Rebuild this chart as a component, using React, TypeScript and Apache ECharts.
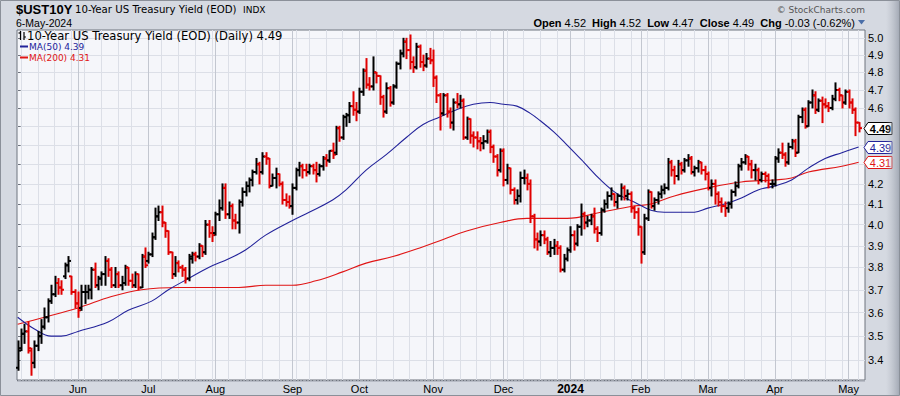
import React, { useEffect, useRef } from "react";
import * as echarts from "echarts";

// ---------- calendar ----------
const firstDay = "2023-05-05";
const lastDay = "2024-05-06";
const marketHolidays = [
  "2023-05-29", "2023-06-19", "2023-07-04", "2023-09-04", "2023-11-23",
  "2023-12-25", "2024-01-01", "2024-01-15", "2024-02-19", "2024-03-29",
];
const monthNames = ["Jan", "Feb", "Mar", "Apr", "May", "Jun", "Jul", "Aug", "Sep", "Oct", "Nov", "Dec"];

// ---------- OHLC rows [open, high, low, close] ----------
const may2023 = [
  [3.37, 3.48, 3.36, 3.44], [3.45, 3.53, 3.44, 3.51], [3.51, 3.55, 3.47, 3.52], [3.52, 3.56, 3.43, 3.45],
  [3.44, 3.45, 3.34, 3.39], [3.39, 3.48, 3.37, 3.46], [3.46, 3.52, 3.44, 3.50], [3.50, 3.57, 3.47, 3.54],
  [3.54, 3.62, 3.53, 3.58], [3.58, 3.66, 3.56, 3.65], [3.65, 3.72, 3.64, 3.68], [3.68, 3.76, 3.67, 3.73],
  [3.73, 3.75, 3.68, 3.71], [3.71, 3.74, 3.68, 3.70], [3.76, 3.82, 3.75, 3.81], [3.81, 3.85, 3.78, 3.83],
  [3.76, 3.76, 3.68, 3.69], [3.69, 3.70, 3.62, 3.64],
];
const jun2023 = [
  [3.64, 3.69, 3.58, 3.61], [3.62, 3.72, 3.61, 3.69], [3.69, 3.72, 3.64, 3.69], [3.69, 3.72, 3.66, 3.70],
  [3.70, 3.80, 3.66, 3.79], [3.79, 3.82, 3.71, 3.72], [3.72, 3.76, 3.70, 3.75], [3.75, 3.78, 3.72, 3.77],
  [3.77, 3.85, 3.72, 3.83], [3.83, 3.84, 3.76, 3.79], [3.79, 3.80, 3.71, 3.72], [3.72, 3.80, 3.71, 3.77],
  [3.77, 3.78, 3.71, 3.72], [3.72, 3.76, 3.70, 3.73], [3.73, 3.81, 3.72, 3.80], [3.80, 3.80, 3.72, 3.74],
  [3.74, 3.77, 3.71, 3.72], [3.72, 3.78, 3.71, 3.77], [3.77, 3.77, 3.70, 3.71], [3.71, 3.86, 3.71, 3.85],
  [3.85, 3.89, 3.80, 3.81],
];
const jul2023 = [
  [3.83, 3.87, 3.82, 3.86], [3.86, 3.96, 3.85, 3.94], [3.94, 4.08, 3.93, 4.04], [4.04, 4.09, 4.02, 4.06],
  [4.06, 4.09, 3.99, 4.01], [4.01, 4.01, 3.94, 3.97], [3.97, 3.97, 3.86, 3.87], [3.87, 3.87, 3.75, 3.77],
  [3.77, 3.85, 3.76, 3.82], [3.82, 3.83, 3.78, 3.80], [3.80, 3.81, 3.76, 3.79], [3.79, 3.80, 3.73, 3.75],
  [3.75, 3.86, 3.74, 3.85], [3.84, 3.87, 3.82, 3.86], [3.86, 3.87, 3.83, 3.85], [3.85, 3.91, 3.84, 3.90],
  [3.90, 3.90, 3.85, 3.87], [3.87, 4.02, 3.86, 4.00], [4.00, 4.02, 3.94, 3.96], [3.96, 3.99, 3.92, 3.95],
];
const aug2023 = [
  [3.96, 4.06, 3.95, 4.05], [4.05, 4.12, 4.02, 4.08], [4.08, 4.20, 4.07, 4.18], [4.18, 4.20, 4.03, 4.05],
  [4.05, 4.11, 4.03, 4.09], [4.09, 4.10, 3.98, 4.02], [4.02, 4.05, 3.98, 4.01], [4.01, 4.12, 3.96, 4.11],
  [4.11, 4.18, 4.09, 4.16], [4.16, 4.21, 4.14, 4.19], [4.19, 4.23, 4.16, 4.22], [4.22, 4.27, 4.19, 4.26],
  [4.26, 4.33, 4.25, 4.30], [4.30, 4.31, 4.20, 4.26], [4.26, 4.36, 4.25, 4.34], [4.34, 4.36, 4.30, 4.33],
  [4.33, 4.33, 4.18, 4.19], [4.19, 4.25, 4.19, 4.23], [4.23, 4.28, 4.18, 4.25], [4.25, 4.25, 4.19, 4.20],
  [4.20, 4.21, 4.10, 4.12], [4.12, 4.15, 4.09, 4.11], [4.11, 4.14, 4.08, 4.09],
];
const sep2023 = [
  [4.09, 4.20, 4.05, 4.18], [4.18, 4.28, 4.17, 4.27], [4.27, 4.31, 4.24, 4.29], [4.29, 4.30, 4.23, 4.27],
  [4.27, 4.30, 4.24, 4.26], [4.26, 4.30, 4.25, 4.29], [4.29, 4.30, 4.25, 4.27], [4.27, 4.31, 4.21, 4.25],
  [4.25, 4.30, 4.24, 4.29], [4.29, 4.34, 4.27, 4.33], [4.33, 4.35, 4.29, 4.32], [4.32, 4.37, 4.31, 4.37],
  [4.37, 4.41, 4.33, 4.35], [4.36, 4.50, 4.35, 4.49], [4.49, 4.50, 4.42, 4.44], [4.44, 4.56, 4.43, 4.55],
  [4.55, 4.57, 4.50, 4.56], [4.56, 4.63, 4.52, 4.61], [4.61, 4.69, 4.56, 4.59], [4.59, 4.63, 4.53, 4.58],
];
const oct2023 = [
  [4.58, 4.71, 4.57, 4.69], [4.69, 4.82, 4.67, 4.81], [4.81, 4.88, 4.71, 4.73], [4.73, 4.77, 4.70, 4.72],
  [4.72, 4.89, 4.70, 4.80], [4.80, 4.80, 4.74, 4.78], [4.78, 4.78, 4.62, 4.66], [4.66, 4.67, 4.55, 4.58],
  [4.58, 4.74, 4.57, 4.71], [4.71, 4.72, 4.61, 4.63], [4.63, 4.73, 4.62, 4.72], [4.72, 4.86, 4.71, 4.85],
  [4.85, 4.93, 4.82, 4.91], [4.91, 5.00, 4.89, 4.98], [4.98, 5.00, 4.88, 4.93], [4.93, 5.02, 4.82, 4.86],
  [4.86, 4.89, 4.80, 4.83], [4.83, 4.97, 4.82, 4.95], [4.95, 4.96, 4.83, 4.86], [4.86, 4.90, 4.81, 4.84],
  [4.84, 4.91, 4.83, 4.88], [4.88, 4.94, 4.85, 4.87],
];
const nov2023 = [
  [4.87, 4.93, 4.72, 4.77], [4.77, 4.78, 4.63, 4.67], [4.67, 4.68, 4.48, 4.57], [4.57, 4.68, 4.56, 4.67],
  [4.67, 4.68, 4.55, 4.58], [4.58, 4.60, 4.49, 4.52], [4.52, 4.65, 4.48, 4.63], [4.63, 4.68, 4.60, 4.62],
  [4.62, 4.67, 4.60, 4.64], [4.64, 4.65, 4.43, 4.44], [4.44, 4.55, 4.43, 4.54], [4.54, 4.54, 4.41, 4.45],
  [4.45, 4.47, 4.39, 4.44], [4.44, 4.47, 4.38, 4.42], [4.42, 4.44, 4.37, 4.41], [4.41, 4.45, 4.38, 4.42],
  [4.42, 4.48, 4.41, 4.47], [4.47, 4.48, 4.36, 4.39], [4.39, 4.40, 4.31, 4.34], [4.34, 4.35, 4.24, 4.27],
  [4.27, 4.38, 4.26, 4.37],
];
const dec2023 = [
  [4.37, 4.38, 4.19, 4.22], [4.22, 4.30, 4.20, 4.28], [4.28, 4.28, 4.15, 4.17], [4.17, 4.18, 4.10, 4.12],
  [4.12, 4.17, 4.10, 4.14], [4.14, 4.26, 4.11, 4.23], [4.23, 4.27, 4.20, 4.23], [4.23, 4.25, 4.17, 4.20],
  [4.20, 4.22, 4.01, 4.04], [4.04, 4.05, 3.89, 3.93], [3.93, 3.96, 3.88, 3.92], [3.92, 3.97, 3.90, 3.95],
  [3.95, 3.97, 3.91, 3.93], [3.93, 3.94, 3.86, 3.87], [3.87, 3.92, 3.85, 3.89], [3.89, 3.93, 3.86, 3.90],
  [3.90, 3.92, 3.86, 3.89], [3.89, 3.90, 3.78, 3.79], [3.79, 3.86, 3.78, 3.84], [3.84, 3.89, 3.83, 3.88],
];
const jan2024 = [
  [3.88, 3.99, 3.87, 3.95], [3.95, 3.97, 3.88, 3.91], [3.91, 4.00, 3.90, 3.99], [3.99, 4.10, 3.95, 4.05],
  [4.05, 4.06, 3.98, 4.01], [4.01, 4.04, 3.99, 4.02], [4.02, 4.05, 4.00, 4.04], [4.04, 4.08, 3.96, 3.98],
  [3.98, 3.99, 3.92, 3.96], [3.96, 4.08, 3.95, 4.07], [4.07, 4.12, 4.06, 4.10], [4.10, 4.16, 4.08, 4.14],
  [4.14, 4.18, 4.12, 4.15], [4.15, 4.15, 4.09, 4.11], [4.11, 4.15, 4.08, 4.14], [4.14, 4.20, 4.12, 4.18],
  [4.18, 4.19, 4.12, 4.14], [4.14, 4.17, 4.12, 4.15], [4.15, 4.16, 4.06, 4.08], [4.08, 4.09, 4.03, 4.06],
  [4.06, 4.08, 3.95, 3.99],
];
const feb2024 = [
  [3.99, 3.99, 3.82, 3.87], [3.87, 4.05, 3.86, 4.03], [4.03, 4.17, 4.02, 4.16], [4.16, 4.16, 4.08, 4.09],
  [4.09, 4.13, 4.07, 4.12], [4.12, 4.16, 4.10, 4.15], [4.15, 4.19, 4.13, 4.17], [4.17, 4.20, 4.15, 4.18],
  [4.18, 4.33, 4.17, 4.31], [4.31, 4.32, 4.24, 4.27], [4.27, 4.29, 4.20, 4.24], [4.24, 4.32, 4.22, 4.30],
  [4.30, 4.31, 4.25, 4.27], [4.27, 4.33, 4.26, 4.32], [4.32, 4.35, 4.29, 4.33], [4.33, 4.34, 4.25, 4.26],
  [4.26, 4.29, 4.24, 4.28], [4.28, 4.32, 4.26, 4.31], [4.31, 4.31, 4.25, 4.27], [4.27, 4.29, 4.22, 4.25],
];
const mar2024 = [
  [4.25, 4.26, 4.17, 4.18], [4.18, 4.22, 4.14, 4.20], [4.20, 4.22, 4.10, 4.15], [4.15, 4.16, 4.09, 4.11],
  [4.11, 4.13, 4.06, 4.09], [4.09, 4.11, 4.04, 4.08], [4.08, 4.11, 4.06, 4.10], [4.10, 4.17, 4.08, 4.16],
  [4.16, 4.21, 4.14, 4.19], [4.19, 4.30, 4.18, 4.29], [4.29, 4.33, 4.27, 4.31], [4.31, 4.35, 4.30, 4.34],
  [4.34, 4.34, 4.27, 4.30], [4.30, 4.32, 4.23, 4.27], [4.27, 4.30, 4.22, 4.27], [4.27, 4.28, 4.20, 4.22],
  [4.22, 4.26, 4.21, 4.25], [4.25, 4.26, 4.21, 4.24], [4.24, 4.25, 4.18, 4.20], [4.20, 4.22, 4.18, 4.20],
];
const apr2024 = [
  [4.20, 4.34, 4.19, 4.33], [4.33, 4.38, 4.31, 4.36], [4.36, 4.41, 4.33, 4.35], [4.35, 4.36, 4.29, 4.31],
  [4.31, 4.41, 4.30, 4.39], [4.39, 4.43, 4.38, 4.42], [4.42, 4.43, 4.34, 4.36], [4.36, 4.56, 4.36, 4.55],
  [4.55, 4.60, 4.52, 4.59], [4.59, 4.60, 4.49, 4.50], [4.50, 4.64, 4.50, 4.63], [4.63, 4.70, 4.60, 4.67],
  [4.67, 4.69, 4.57, 4.59], [4.59, 4.65, 4.58, 4.64], [4.64, 4.66, 4.52, 4.62], [4.62, 4.65, 4.60, 4.61],
  [4.61, 4.63, 4.58, 4.60], [4.60, 4.67, 4.59, 4.65], [4.65, 4.74, 4.64, 4.70], [4.70, 4.71, 4.64, 4.67],
  [4.67, 4.67, 4.60, 4.63], [4.63, 4.70, 4.62, 4.69],
];
const may2024 = [
  [4.69, 4.70, 4.60, 4.63], [4.63, 4.65, 4.57, 4.59], [4.59, 4.60, 4.45, 4.52], [4.52, 4.52, 4.47, 4.49],
];
const closeBeforeFirstDay = 3.38;

// moving averages: [bar index, value]
const ma50Points = [
  [0, 3.58], [5, 3.53], [10, 3.50], [13, 3.50], [18, 3.52], [27, 3.56], [33, 3.61], [40, 3.65],
  [45, 3.70], [51, 3.75], [57, 3.80], [63, 3.84], [68, 3.88], [74, 3.95], [82, 4.02], [87, 4.06],
  [94, 4.12], [98, 4.17], [104, 4.27], [110, 4.35], [116, 4.44], [121, 4.51], [126, 4.55], [131, 4.59],
  [136, 4.62], [141, 4.63], [145, 4.62], [149, 4.61], [153, 4.57], [156, 4.53], [160, 4.47], [164, 4.40],
  [169, 4.31], [174, 4.22], [179, 4.15], [184, 4.11], [189, 4.07], [193, 4.06], [198, 4.06], [202, 4.06],
  [206, 4.08], [211, 4.10], [216, 4.13], [221, 4.17], [226, 4.19], [231, 4.22], [236, 4.28], [241, 4.33],
  [246, 4.36], [251, 4.39],
];
const ma200Points = [
  [0, 3.55], [8, 3.58], [18, 3.62], [28, 3.67], [37, 3.70], [48, 3.71], [58, 3.71], [66, 3.71],
  [74, 3.72], [82, 3.72], [89, 3.74], [97, 3.78], [104, 3.82], [112, 3.85], [120, 3.89], [127, 3.93],
  [134, 3.97], [144, 4.01], [152, 4.03], [164, 4.03], [174, 4.06], [184, 4.09], [189, 4.10], [196, 4.14],
  [206, 4.18], [216, 4.21], [226, 4.22], [231, 4.23], [236, 4.26], [246, 4.29], [251, 4.31],
];

// y-axis tick values (log scale)
const yTicks = [3.4, 3.5, 3.6, 3.7, 3.8, 3.9, 4.0, 4.1, 4.2, 4.3, 4.4, 4.5, 4.6, 4.7, 4.8, 4.9, 5.0];
const yHiddenLabels = [4.3, 4.4, 4.5];
const yRange = [3.321, 5.05];

const headerQuote = { open: "4.52", high: "4.52", low: "4.47", close: "4.49", chg: "-0.03 (-0.62%)" };

function tradingDays(): string[] {
  const out: string[] = [];
  const d = new Date(firstDay + "T00:00:00Z");
  const end = new Date(lastDay + "T00:00:00Z").getTime();
  while (d.getTime() <= end) {
    const wd = d.getUTCDay();
    const s = d.toISOString().slice(0, 10);
    if (wd !== 0 && wd !== 6 && !marketHolidays.includes(s)) out.push(s);
    d.setUTCDate(d.getUTCDate() + 1);
  }
  return out;
}

export default function App() {
  const ref = useRef<HTMLDivElement>(null);
  useEffect(() => {
    if (!ref.current) return;
    const chart = echarts.init(ref.current, undefined, { renderer: "svg" });
    const days = tradingDays();
    const rows = [...may2023, ...jun2023, ...jul2023, ...aug2023, ...sep2023, ...oct2023, ...nov2023,
      ...dec2023, ...jan2024, ...feb2024, ...mar2024, ...apr2024, ...may2024];
    const n = rows.length;
    const ohlc = rows.map((r, i) => {
      const prev = i === 0 ? closeBeforeFirstDay : rows[i - 1][3];
      return [i, Math.log(r[0]), Math.log(r[1]), Math.log(r[2]), Math.log(r[3]), r[3] >= prev ? 1 : 0];
    });
    const monthIdx: number[] = [];
    const weekIdx: number[] = [];
    const monthLabel: Record<number, string> = {};
    for (let i = 1; i < days.length; i++) {
      const a = new Date(days[i - 1] + "T00:00:00Z");
      const b = new Date(days[i] + "T00:00:00Z");
      if (a.getUTCMonth() !== b.getUTCMonth()) {
        monthIdx.push(i);
        monthLabel[i] = b.getUTCMonth() === 0 ? "{b|" + b.getUTCFullYear() + "}" : monthNames[b.getUTCMonth()];
      }
      if (b.getUTCDay() <= a.getUTCDay()) weekIdx.push(i);
    }
    const allIdx = days.map((_, i) => i);
    const xMin = -0.2;
    const xMax = n + 0.9;
    const yMinL = Math.log(yRange[0]);
    const yMaxL = Math.log(yRange[1]);
    const tickL = yTicks.map((v) => Math.log(v));
    const labelL = yTicks.filter((v) => !yHiddenLabels.includes(v)).map((v) => Math.log(v));
    const ma50 = ma50Points.map((p) => [p[0], Math.log(p[1])]);
    const ma200 = ma200Points.map((p) => [p[0], Math.log(p[1])]);
    const lastClose = rows[n - 1][3];
    const lastMa50 = ma50Points[ma50Points.length - 1][1];
    const lastMa200 = ma200Points[ma200Points.length - 1][1];

    const gridColor = "#dcdfe7";
    const xCommon = { type: "value", min: xMin, max: xMax, gridIndex: 0, axisLine: { show: false } };

    chart.setOption({
      animation: false,
      backgroundColor: "#d5d9e1",
      grid: { left: 17, top: 30, width: 848, height: 350, show: true, backgroundColor: "#f5f6fa", borderColor: "#6f747e", borderWidth: 1, z: 0 },
      xAxis: [
        {
          ...xCommon,
          position: "bottom",
          axisTick: { show: false, customValues: monthIdx },
          axisLabel: {
            customValues: monthIdx,
            formatter: (v: number) => monthLabel[Math.round(v)] || "",
            color: "#000",
            fontFamily: "Liberation Sans",
            fontSize: 11,
            margin: 3,
            rich: { b: { fontWeight: "bold", fontSize: 12, fontFamily: "Liberation Sans", color: "#000" } },
          },
          splitLine: { show: true, lineStyle: { color: "#c3c7d0", width: 1 } },
          z: 2,
        },
        {
          ...xCommon,
          position: "bottom",
          axisTick: { show: false, customValues: weekIdx },
          axisLabel: { show: false },
          splitLine: { show: true, lineStyle: { color: gridColor, width: 1 } },
          z: 1,
        },
        {
          ...xCommon,
          position: "bottom",
          axisTick: { show: true, customValues: allIdx, length: 2, lineStyle: { color: "#6f747e", width: 1 } },
          axisLabel: { show: false },
          splitLine: { show: false },
        },
      ],
      yAxis: {
        type: "value",
        position: "right",
        min: yMinL,
        max: yMaxL,
        axisLine: { show: false },
        axisTick: { show: true, customValues: tickL, length: 3, lineStyle: { color: "#6f747e" } },
        axisLabel: {
          customValues: labelL,
          formatter: (v: number) => Math.exp(v).toFixed(1),
          color: "#000",
          fontFamily: "Liberation Sans",
          fontSize: 11,
          margin: 3,
        },
        splitLine: { show: true, lineStyle: { color: gridColor, width: 1 } },
      },
      series: [
        {
          type: "line",
          name: "MA(200)",
          data: ma200,
          xAxisIndex: 0,
          showSymbol: false,
          smooth: 0.4,
          lineStyle: { color: "#e01515", width: 1.1 },
          z: 3,
        },
        {
          type: "line",
          name: "MA(50)",
          data: ma50,
          xAxisIndex: 0,
          showSymbol: false,
          smooth: 0.4,
          lineStyle: { color: "#22229a", width: 1.1 },
          z: 3,
        },
        {
          type: "custom",
          name: "UST10Y",
          xAxisIndex: 0,
          data: ohlc,
          encode: { x: 0, y: [1, 2, 3, 4] },
          z: 4,
          renderItem: (params: any, api: any) => {
            const i = api.value(0);
            const o = api.coord([i, api.value(1)]);
            const h = api.coord([i, api.value(2)]);
            const l = api.coord([i, api.value(3)]);
            const c = api.coord([i, api.value(4)]);
            const x = Math.round(o[0]) + 0.5;
            const color = api.value(5) ? "#000000" : "#e00000";
            const st = { stroke: color, lineWidth: 2 };
            return {
              type: "group",
              children: [
                { type: "line", shape: { x1: x, y1: h[1] - 0.5, x2: x, y2: l[1] + 0.5 }, style: st },
                { type: "line", shape: { x1: x - 2.5, y1: o[1], x2: x, y2: o[1] }, style: st },
                { type: "line", shape: { x1: x, y1: c[1], x2: x + 2.5, y2: c[1] }, style: st },
              ],
            };
          },
        },
      ],
    });

    const tag = (val: number, color: string, bold: boolean) => {
      const p = chart.convertToPixel({ xAxisIndex: 0, yAxisIndex: 0 }, [xMax, Math.log(val)]);
      return {
        type: "group",
        x: p[0] - 1,
        y: Math.round(p[1]) + 0.5,
        z: 50,
        children: [
          {
            type: "polygon",
            shape: { points: [[0, 0], [4, -6], [28, -6], [28, 6], [4, 6]] },
            style: { fill: "#ffffff", stroke: color, lineWidth: 1 },
          },
          {
            type: "text",
            style: {
              text: val.toFixed(2), x: 16.5, y: 0.5, align: "center", verticalAlign: "middle",
              textAlign: "center", textVerticalAlign: "middle",
              font: (bold ? "bold " : "") + "11px 'Liberation Sans'", fill: bold ? "#000" : color,
            },
          },
        ],
      };
    };

    const txt = (text: string, x: number, y: number, font: string, fill: string, align = "left", extra: any = {}) => ({
      type: "text",
      z: 60,
      style: { text, x, y, font, fill, align, verticalAlign: "middle", textAlign: align, textVerticalAlign: "middle", ...extra },
    });

    chart.setOption({
      graphic: [
        { type: "rect", z: 70, shape: { x: 0.5, y: 0.5, width: 899, height: 395 }, style: { fill: "none", stroke: "#8b9099", lineWidth: 1 } },
        {
          type: "rect", z: 1, shape: { x: 886, y: 1, width: 13, height: 394 },
          style: { fill: new echarts.graphic.LinearGradient(0, 0, 1, 0, [{ offset: 0, color: "rgba(180,185,195,0)" }, { offset: 1, color: "rgba(160,166,178,0.9)" }]) },
        },
        { type: "line", z: 5, shape: { x1: 17, y1: 381.5, x2: 865, y2: 381.5 }, style: { stroke: "#b8bcc6", lineWidth: 1 } },
        txt("$UST10Y", 16, 9, "bold 13px 'Liberation Sans'", "#000"),
        txt("10-Year US Treasury Yield (EOD)", 75, 9.5, "10.2px 'DejaVu Sans'", "#000"),
        txt("INDX", 243, 9.5, "9px 'DejaVu Sans'", "#000"),
        txt("6-May-2024", 16, 22.5, "10.5px 'Liberation Sans'", "#000"),
        txt("\u00a9 StockCharts.com", 865, 9.5, "9px 'DejaVu Sans'", "#555", "right"),
        {
          type: "text",
          z: 60,
          style: {
            text: `{b|Open} ${headerQuote.open}  {b|High} ${headerQuote.high}  {b|Low} ${headerQuote.low}  {b|Close} ${headerQuote.close}  {b|Chg} ${headerQuote.chg}`,
            x: 855, y: 22.5, align: "right", verticalAlign: "middle", textAlign: "right", textVerticalAlign: "middle",
            font: "11px 'Liberation Sans'", fill: "#000",
            rich: { b: { font: "bold 11px 'Liberation Sans'", fill: "#000" } },
          },
        },
        { type: "polygon", z: 60, shape: { points: [[858, 20], [865, 20], [861.5, 24.5]] }, style: { fill: "#4a6ea8" } },
        // legend inside plot
        { type: "line", z: 60, shape: { x1: 20.5, y1: 31, x2: 20.5, y2: 40 }, style: { stroke: "#000", lineWidth: 1.2 } },
        { type: "line", z: 60, shape: { x1: 18.5, y1: 33, x2: 20.5, y2: 33 }, style: { stroke: "#000", lineWidth: 1.2 } },
        { type: "line", z: 60, shape: { x1: 24, y1: 32, x2: 24, y2: 40 }, style: { stroke: "#000", lineWidth: 1.2 } },
        { type: "line", z: 60, shape: { x1: 24, y1: 37, x2: 26, y2: 37 }, style: { stroke: "#000", lineWidth: 1.2 } },
        txt(`10-Year US Treasury Yield (EOD) (Daily) ${lastClose.toFixed(2)}`, 27, 35.5, "11.6px 'DejaVu Sans'", "#000"),
        { type: "line", z: 60, shape: { x1: 20, y1: 46.5, x2: 28, y2: 46.5 }, style: { stroke: "#22229a", lineWidth: 2 } },
        txt(`MA(50) ${lastMa50.toFixed(2)}`, 29, 46.5, "9px 'DejaVu Sans'", "#22229a"),
        { type: "line", z: 60, shape: { x1: 20, y1: 57.5, x2: 28, y2: 57.5 }, style: { stroke: "#e01515", lineWidth: 2 } },
        txt(`MA(200) ${lastMa200.toFixed(2)}`, 29, 57.5, "9px 'DejaVu Sans'", "#e01515"),
        tag(lastMa200, "#e01515", false),
        tag(lastMa50, "#22229a", false),
        tag(lastClose, "#000000", true),
      ],
    });

    return () => chart.dispose();
  }, []);
  return <div ref={ref} style={{ position: "fixed", left: 0, top: 0, width: 900, height: 396 }} />;
}
